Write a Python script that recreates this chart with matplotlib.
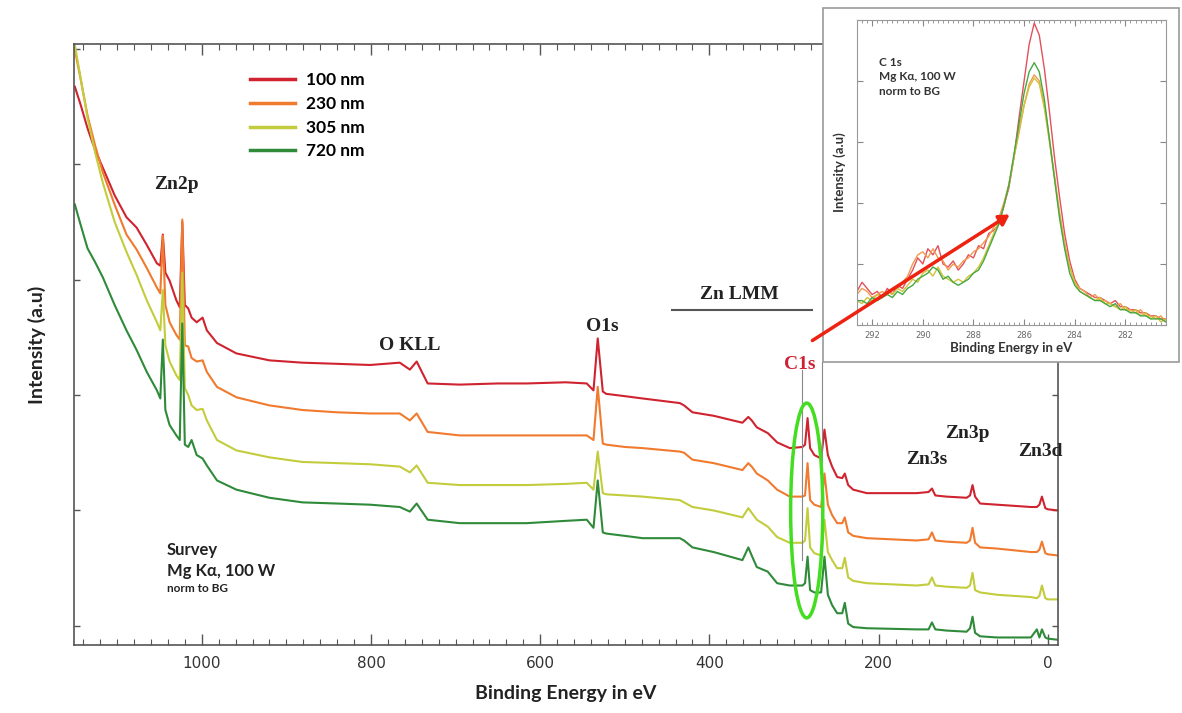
import matplotlib
matplotlib.use("Agg")
import matplotlib.pyplot as plt
from matplotlib.patches import Ellipse, Rectangle, FancyArrowPatch
from matplotlib.ticker import MultipleLocator, FuncFormatter

SANS = ["Lato", "DejaVu Sans"]
SERIF = ["Liberation Serif", "DejaVu Serif"]

# survey spectra, binding energy (eV) and intensity (a.u., offset curves)
energy = [1150, 1143, 1135, 1126, 1117, 1103, 1089, 1077, 1065, 1053, 1049, 1046, 1043, 1038,
          1030, 1026, 1023, 1020, 1016, 1012, 1006, 999, 994, 982, 959, 920, 881, 840, 801,
          766, 754, 746, 733, 695, 650, 616, 570, 545, 537, 532, 526, 522, 500, 479, 435,
          430, 420, 395, 361, 354, 350, 344, 331, 320, 305, 290, 287, 284, 281, 276, 268,
          264, 260, 255, 249, 243, 240, 236, 230, 214, 155, 141, 137, 133, 120, 96, 92, 89,
          86, 80, 60, 20, 13, 10, 7, 3, 0, -12]

int_100 = [46.7, 45.1, 43.1, 41.2, 39.7, 37.3, 35.4, 34.5, 33.0, 31.4, 31.2, 33.9, 30.6, 29.9,
           28.2, 27.6, 35.0, 27.8, 27.5, 26.7, 26.3, 26.7, 25.6, 24.5, 23.6, 23.0, 22.8, 22.7, 22.6,
           22.8, 22.2, 22.9, 21.0, 20.9, 21.0, 21.0, 21.1, 21.0, 20.4, 24.9, 20.3, 20.1, 19.9, 19.7, 19.3,
           19.1, 18.5, 18.2, 17.6, 18.1, 17.8, 17.2, 16.7, 15.9, 15.4, 15.5, 15.7, 18.0, 15.4, 14.8, 14.5,
           17.0, 14.8, 13.8, 12.9, 12.8, 13.2, 12.2, 11.8, 11.5, 11.5, 11.6, 11.9, 11.3, 11.2, 11.1, 11.3, 12.2,
           11.2, 10.6, 10.5, 10.3, 10.3, 10.5, 11.2, 10.2, 10.1, 10.0]

int_230 = [49.9, 47.3, 44.2, 41.6, 39.3, 36.5, 33.9, 32.6, 31.0, 29.3, 28.8, 33.8, 27.8, 26.3,
           25.2, 24.8, 35.2, 24.3, 24.2, 23.2, 22.9, 23.0, 22.0, 20.7, 19.8, 19.1, 18.7, 18.5, 18.4,
           18.4, 17.8, 18.4, 16.8, 16.5, 16.5, 16.5, 16.5, 16.5, 16.1, 20.7, 15.8, 15.7, 15.5, 15.4, 15.1,
           15.0, 14.4, 14.1, 13.5, 14.1, 13.8, 13.2, 12.6, 11.8, 11.2, 11.2, 11.3, 14.1, 10.9, 10.5, 10.3,
           13.2, 10.5, 9.6, 8.9, 8.9, 9.4, 8.1, 7.8, 7.6, 7.4, 7.5, 8.1, 7.4, 7.3, 7.2, 7.4, 8.5,
           7.2, 6.8, 6.7, 6.4, 6.4, 6.6, 7.3, 6.3, 6.2, 6.1]

int_305 = [50.3, 47.4, 44.0, 41.0, 38.4, 35.0, 32.4, 30.4, 28.2, 26.3, 25.6, 29.1, 24.3, 22.9,
           21.7, 21.3, 30.6, 20.6, 20.0, 19.1, 18.7, 18.8, 17.8, 16.1, 15.2, 14.6, 14.2, 14.1, 14.0,
           13.8, 13.3, 13.9, 12.4, 12.2, 12.2, 12.2, 12.3, 12.4, 11.8, 15.1, 11.5, 11.4, 11.3, 11.2, 10.9,
           10.7, 10.3, 10.0, 9.4, 10.2, 9.8, 9.2, 8.6, 7.7, 7.2, 7.2, 7.4, 10.2, 6.8, 6.3, 6.1,
           9.2, 6.4, 5.7, 5.0, 5.0, 5.9, 4.2, 3.9, 3.7, 3.5, 3.6, 4.2, 3.5, 3.4, 3.3, 3.5, 4.6,
           3.1, 2.9, 2.7, 2.5, 2.4, 2.6, 3.5, 2.4, 2.3, 2.3]

int_720 = [36.5, 34.7, 32.7, 31.5, 30.2, 27.8, 25.6, 23.9, 22.0, 20.4, 19.7, 24.8, 18.7, 17.4,
           16.5, 16.1, 26.2, 15.7, 15.5, 16.1, 14.8, 14.5, 13.9, 12.6, 11.8, 11.1, 10.7, 10.6, 10.5,
           10.3, 9.9, 10.6, 9.2, 8.9, 8.9, 8.9, 9.1, 9.2, 8.5, 12.6, 8.1, 8.0, 7.8, 7.6, 7.6,
           7.4, 6.8, 6.4, 5.7, 6.8, 6.1, 5.1, 4.7, 3.7, 3.5, 3.5, 3.7, 6.0, 3.1, 2.9, 2.9,
           6.0, 2.7, 1.8, 1.1, 1.1, 2.0, 0.2, -0.1, -0.2, -0.3, -0.3, 0.3, -0.3, -0.4, -0.5, -0.2, 0.8,
           -0.6, -0.9, -1.0, -1.0, -0.3, -1.0, -0.3, -1.0, -1.1, -1.2]

# C 1s detail (inset), intensity normalised to background
c1s_energy = [292.6, 292.4, 292.2, 292.0, 291.8, 291.6, 291.4, 291.2, 291.0, 290.8, 290.6, 290.4,
              290.2, 290.0, 289.8, 289.6, 289.4, 289.2, 289.0, 288.8, 288.6, 288.4, 288.2, 288.0,
              287.8, 287.6, 287.4, 287.2, 287.0, 286.8, 286.6, 286.4, 286.2, 286.0, 285.8, 285.6,
              285.4, 285.2, 285.0, 284.8, 284.6, 284.4, 284.2, 284.0, 283.8, 283.6, 283.4, 283.2,
              283.0, 282.8, 282.6, 282.4, 282.2, 282.0, 281.8, 281.6, 281.4, 281.2, 281.0, 280.8,
              280.6, 280.4]
c1s_100 = [11, 14, 12, 10, 11, 9, 12, 10, 13, 12, 15, 18, 22, 20, 25, 23, 26, 20, 19, 21, 18, 20,
           23, 22, 26, 25, 30, 31, 33, 39, 45, 55, 68, 80, 92, 99, 95, 84, 70, 55, 42, 30, 21, 15,
           12, 11, 10, 9, 9, 8, 7, 8, 6, 6, 5, 5, 4, 4, 3, 3, 2, 2]
c1s_230 = [10, 12, 11, 9, 10, 11, 10, 12, 12, 14, 16, 20, 23, 24, 22, 25, 22, 21, 18, 20, 19, 21,
           22, 24, 25, 27, 29, 32, 35, 40, 46, 55, 63, 72, 79, 82, 80, 72, 61, 49, 37, 27, 19, 14,
           12, 11, 9, 10, 8, 8, 7, 6, 7, 5, 5, 4, 5, 3, 3, 2, 3, 1]
c1s_305 = [8, 7, 9, 8, 10, 9, 11, 10, 12, 11, 13, 15, 14, 17, 18, 16, 19, 16, 15, 14, 15, 14,
           16, 17, 19, 22, 26, 30, 34, 39, 46, 55, 64, 72, 78, 81, 79, 71, 60, 48, 36, 26, 19, 14,
           11, 10, 9, 8, 9, 7, 7, 6, 5, 6, 4, 5, 3, 4, 2, 3, 1, 2]
c1s_720 = [8, 8, 7, 9, 8, 9, 10, 9, 11, 10, 12, 13, 15, 16, 17, 19, 18, 15, 16, 14, 13, 14,
           15, 17, 18, 21, 25, 29, 33, 39, 46, 56, 66, 76, 83, 86, 83, 74, 61, 48, 35, 25, 17, 13,
           11, 10, 9, 8, 8, 7, 6, 7, 5, 5, 4, 4, 3, 3, 2, 2, 2, 1]

labels = ["100 nm", "230 nm", "305 nm", "720 nm"]
colors = ["#cf2330", "#f07a2e", "#c3cc3c", "#2f8a3a"]
inset_colors = ["#e2505c", "#f09a50", "#d2c23a", "#45a840"]

fig = plt.figure(figsize=(11.82, 7.13), dpi=100)
ax = fig.add_axes([0.0626, 0.0954, 0.8325, 0.8429])

for vals, lab, col in zip([int_100, int_230, int_305, int_720], labels, colors):
    ax.plot(energy, vals, color=col, lw=1.5, label=lab)

ax.set_xlim(1151, -12)
ax.set_ylim(-1.65, 50.4)
ax.xaxis.set_major_locator(MultipleLocator(200))
ax.xaxis.set_minor_locator(MultipleLocator(20))
ax.xaxis.set_major_formatter(FuncFormatter(lambda v, p: f"{v:.0f}"))
ax.yaxis.set_major_locator(MultipleLocator(10))
ax.set_yticklabels([])
ax.tick_params(which="both", direction="in", top=True, right=True, color="#555555")
ax.tick_params(which="major", length=8, width=1, labelsize=11, labelcolor="#333333", pad=8)
ax.tick_params(which="minor", length=4, width=0.8)
ax.tick_params(axis="y", which="major", length=4)
for s in ax.spines.values():
    s.set_color("#555555")
    s.set_linewidth(1.2)

ax.set_xlabel("Binding Energy in eV", family=SANS, fontweight="bold", fontsize=14,
              color="#222222", labelpad=10)
ax.set_ylabel("Intensity (a.u)", family=SANS, fontweight="bold", fontsize=14,
              color="#222222", labelpad=12)

leg = ax.legend(loc="upper left", bbox_to_anchor=(0.172, 0.965), frameon=False,
                handlelength=2.6, handletextpad=0.6, labelspacing=0.45,
                prop={"family": SANS, "weight": "bold", "size": 12.5}, borderaxespad=0)
for line in leg.get_lines():
    line.set_linewidth(2.5)

peak_style = dict(family=SERIF, fontweight="bold", fontsize=14, color="#222222", ha="center", va="center")
ax.text(1030, 38.2, "Zn2p", **peak_style)
ax.text(754, 24.3, "O KLL", **peak_style)
ax.text(527, 25.9, "O1s", **peak_style)
ax.text(364, 28.7, "Zn LMM", **peak_style)
ax.plot([444, 279], [27.4, 27.4], color="#555555", lw=1.5)
ax.text(143, 14.4, "Zn3s", **peak_style)
ax.text(95, 16.7, "Zn3p", **peak_style)
ax.text(9, 15.1, "Zn3d", **peak_style)
ax.text(293, 22.6, "C1s", **dict(peak_style, color="#cc2233"))

ax.plot([290, 290], [22.2, 5.7], color="#888888", lw=0.8)
ax.plot([267, 267], [22.9, 14.2], color="#888888", lw=0.8)
ax.add_patch(Ellipse((285, 10.0), 38, 18.6, fill=False, edgecolor="#44dd22", lw=2.5, zorder=5))

ax.text(1041, 6.6, "Survey", family=SANS, fontweight="bold", fontsize=12, color="#222222", va="center")
ax.text(1041, 4.8, "Mg K\u03b1, 100 W", family=SANS, fontweight="bold", fontsize=12, color="#222222", va="center")
ax.text(1041, 3.2, "norm to BG", family=SANS, fontweight="bold", fontsize=8.5, color="#222222", va="center")

# inset frame and axes
fig.add_artist(Rectangle((0.6963, 0.4923), 0.3010, 0.4965, transform=fig.transFigure,
                         facecolor="white", edgecolor="#999999", lw=1.2, zorder=5))
ins = fig.add_axes([0.7250, 0.5442, 0.2614, 0.4278], zorder=6)
for vals, col in zip([c1s_100, c1s_230, c1s_305, c1s_720], inset_colors):
    ins.plot(c1s_energy, vals, color=col, lw=1.0)
ins.set_xlim(292.6, 280.4)
ins.set_ylim(0, 100)
ins.xaxis.set_major_locator(MultipleLocator(2))
ins.xaxis.set_minor_locator(MultipleLocator(0.2))
ins.yaxis.set_major_locator(MultipleLocator(20))
ins.set_yticklabels([])
ins.tick_params(which="both", direction="in", top=True, right=True, color="#888888")
ins.tick_params(which="major", length=4, labelsize=6, labelcolor="#666666", pad=4)
ins.tick_params(which="minor", length=2)
for s in ins.spines.values():
    s.set_color("#999999")
ins.set_xlabel("Binding Energy in eV", family=SANS, fontweight="bold", fontsize=9.5,
               color="#333333", labelpad=2)
ins.set_ylabel("Intensity (a.u)", family=SANS, fontweight="bold", fontsize=9.5,
               color="#333333", labelpad=4)
ins.text(0.07, 0.88, "C 1s\nMg K\u03b1, 100 W\nnorm to BG", transform=ins.transAxes,
         family=SANS, fontweight="bold", fontsize=8.5, color="#333333", va="top", linespacing=1.4)

fig.add_artist(FancyArrowPatch((0.6853, 0.5203), (0.8562, 0.7013), transform=fig.transFigure,
                               arrowstyle="-|>,head_length=6,head_width=3.5", color="#ee2211",
                               lw=2.5, zorder=10))

fig.savefig("out.png", dpi=100)
